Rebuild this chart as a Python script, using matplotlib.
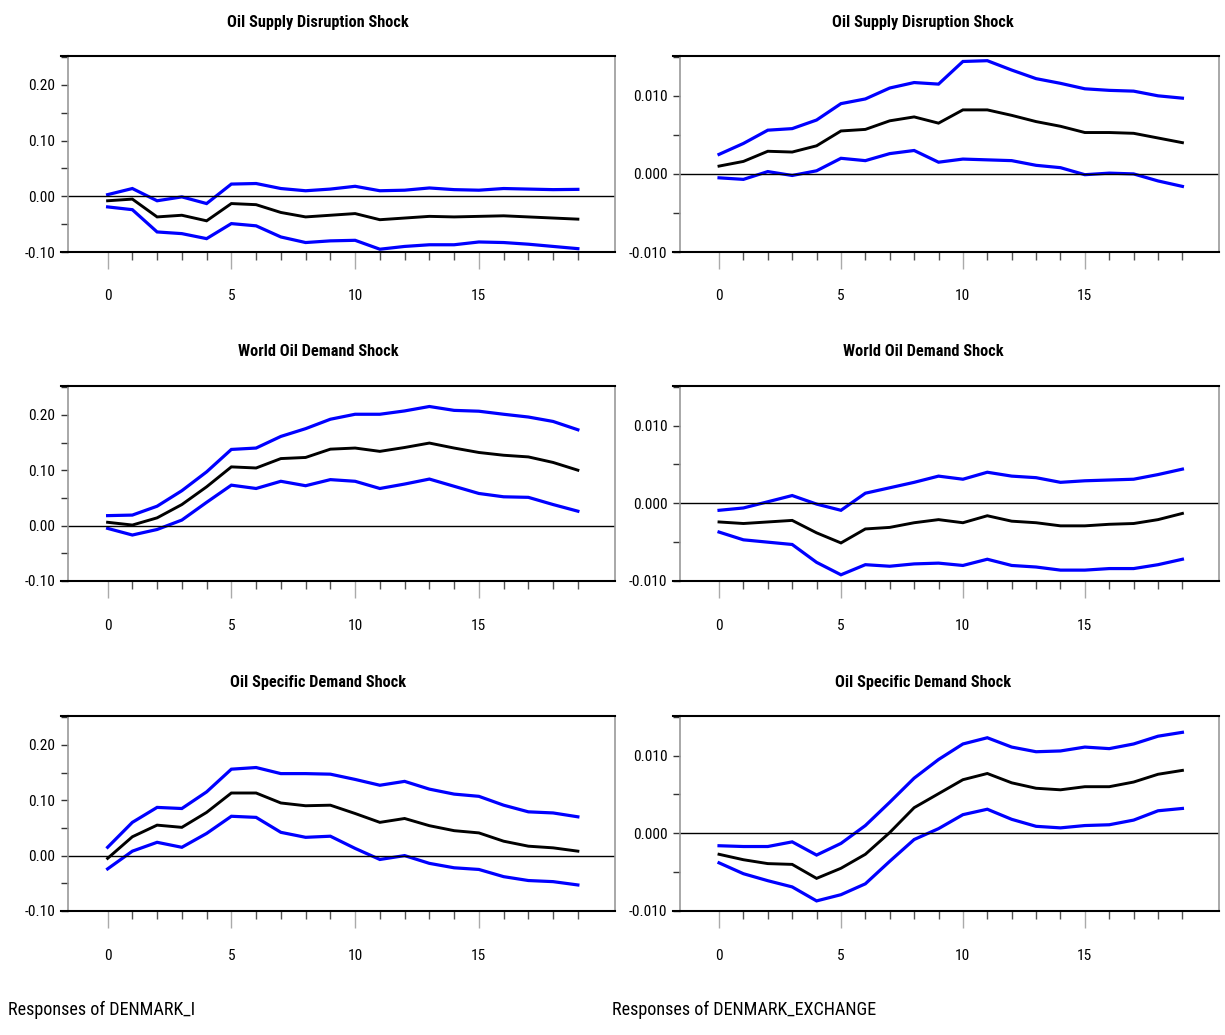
import numpy as np
import matplotlib
matplotlib.use("Agg")
import matplotlib.pyplot as plt
from matplotlib import font_manager
from matplotlib.ticker import MultipleLocator, FixedLocator

# Horizon (periods)
periods = list(range(20))

titles = ['Oil Supply Disruption Shock', 'World Oil Demand Shock', 'Oil Specific Demand Shock']
column_labels = ['Responses of DENMARK_I', 'Responses of DENMARK_EXCHANGE']

# Responses of DENMARK_I
i_supply = [-0.008, -0.005, -0.037, -0.034, -0.044, -0.013, -0.015, -0.029, -0.037, -0.034,
            -0.031, -0.042, -0.039, -0.036, -0.037, -0.036, -0.035, -0.037, -0.039, -0.041]
i_supply_hi = [0.003, 0.014, -0.008, -0.001, -0.013, 0.022, 0.023, 0.014, 0.010, 0.013,
               0.018, 0.010, 0.011, 0.015, 0.012, 0.011, 0.014, 0.013, 0.012, 0.0125]
i_supply_lo = [-0.019, -0.024, -0.064, -0.067, -0.076, -0.049, -0.053, -0.073, -0.083, -0.080,
               -0.079, -0.095, -0.090, -0.087, -0.087, -0.082, -0.083, -0.086, -0.090, -0.094]

i_world = [0.006, 0.001, 0.014, 0.038, 0.070, 0.106, 0.104, 0.121, 0.123, 0.138,
           0.140, 0.134, 0.141, 0.149, 0.140, 0.132, 0.127, 0.124, 0.114, 0.100]
i_world_hi = [0.018, 0.019, 0.035, 0.063, 0.097, 0.1375, 0.140, 0.161, 0.175, 0.192,
              0.201, 0.201, 0.207, 0.215, 0.208, 0.2065, 0.201, 0.196, 0.188, 0.173]
i_world_lo = [-0.005, -0.017, -0.007, 0.010, 0.042, 0.073, 0.067, 0.080, 0.072, 0.083,
              0.080, 0.067, 0.075, 0.084, 0.071, 0.058, 0.052, 0.051, 0.038, 0.026]

i_specific = [-0.005, 0.034, 0.055, 0.051, 0.078, 0.113, 0.113, 0.095, 0.090, 0.091,
              0.076, 0.060, 0.067, 0.054, 0.045, 0.041, 0.026, 0.017, 0.014, 0.008]
i_specific_hi = [0.015, 0.060, 0.087, 0.085, 0.115, 0.156, 0.159, 0.148, 0.148, 0.147,
                 0.1375, 0.127, 0.134, 0.120, 0.111, 0.107, 0.091, 0.079, 0.077, 0.070]
i_specific_lo = [-0.024, 0.008, 0.024, 0.015, 0.040, 0.071, 0.069, 0.042, 0.033, 0.035,
                 0.013, -0.007, 0.000, -0.014, -0.022, -0.025, -0.038, -0.045, -0.047, -0.053]

# Responses of DENMARK_EXCHANGE
x_supply = [0.0010, 0.0016, 0.0029, 0.0028, 0.0036, 0.0055, 0.0057, 0.0068, 0.0073, 0.0065,
            0.0082, 0.0082, 0.0075, 0.0067, 0.0061, 0.0053, 0.0053, 0.0052, 0.0046, 0.0040]
x_supply_hi = [0.0025, 0.0039, 0.0056, 0.0058, 0.0069, 0.0090, 0.0096, 0.0110, 0.0117, 0.0115,
               0.0144, 0.0145, 0.0133, 0.0122, 0.0116, 0.0109, 0.0107, 0.0106, 0.0100, 0.0097]
x_supply_lo = [-0.0005, -0.0007, 0.0003, -0.0002, 0.0004, 0.0020, 0.0017, 0.0026, 0.0030, 0.0015,
               0.0019, 0.0018, 0.0017, 0.0011, 0.0008, -0.0001, 0.0001, 0.0000, -0.0009, -0.0016]

x_world = [-0.0024, -0.0026, -0.0024, -0.0022, -0.0038, -0.0051, -0.0033, -0.0031, -0.0025, -0.0021,
           -0.0025, -0.0016, -0.0023, -0.0025, -0.0029, -0.0029, -0.0027, -0.0026, -0.0021, -0.0013]
x_world_hi = [-0.0009, -0.0006, 0.0002, 0.0010, -0.0001, -0.0009, 0.0013, 0.0020, 0.0027, 0.0035,
              0.0031, 0.0040, 0.0035, 0.0033, 0.0027, 0.0029, 0.0030, 0.0031, 0.0037, 0.0044]
x_world_lo = [-0.0037, -0.0047, -0.0050, -0.0053, -0.0076, -0.0092, -0.0079, -0.0081, -0.0078, -0.0077,
              -0.0080, -0.0072, -0.0080, -0.0082, -0.0086, -0.0086, -0.0084, -0.0084, -0.0079, -0.0072]

x_specific = [-0.0027, -0.0034, -0.0039, -0.0040, -0.0058, -0.0045, -0.0027, 0.0001, 0.0033, 0.0051,
              0.0069, 0.0077, 0.0065, 0.0058, 0.0056, 0.0060, 0.0060, 0.0066, 0.0076, 0.0081]
x_specific_hi = [-0.0016, -0.0017, -0.0017, -0.0011, -0.0028, -0.0013, 0.0010, 0.0040, 0.0071, 0.0095,
                 0.0115, 0.0123, 0.0111, 0.0105, 0.0106, 0.0111, 0.0109, 0.0115, 0.0125, 0.0130]
x_specific_lo = [-0.0038, -0.0052, -0.0061, -0.0069, -0.0087, -0.0079, -0.0065, -0.0036, -0.0008, 0.0006,
                 0.0024, 0.0031, 0.0018, 0.0009, 0.0007, 0.0010, 0.0011, 0.0017, 0.0029, 0.0032]

left_data = [(i_supply, i_supply_hi, i_supply_lo),
             (i_world, i_world_hi, i_world_lo),
             (i_specific, i_specific_hi, i_specific_lo)]
right_data = [(x_supply, x_supply_hi, x_supply_lo),
              (x_world, x_world_hi, x_world_lo),
              (x_specific, x_specific_hi, x_specific_lo)]

left_yticks = [-0.10, 0.00, 0.10, 0.20]
left_ylabels = ['-0.10', '0.00', '0.10', '0.20']
right_yticks = [-0.010, 0.000, 0.010]
right_ylabels = ['-0.010', '0.000', '0.010']


# Pick a narrow font if one is installed (the original uses a condensed face)
def pick_font():
    fonts = font_manager.fontManager.ttflist
    names = {f.name for f in fonts}
    for name in ['Liberation Sans Narrow', 'Roboto Condensed', 'Open Sans Condensed',
                 'Noto Sans Condensed', 'Arial Narrow']:
        if name in names:
            return name, 'normal'
    for f in fonts:
        if f.name == 'DejaVu Sans' and f.stretch in ('condensed', 'semi-condensed'):
            return 'DejaVu Sans', 'condensed'
    return 'Liberation Sans', 'normal'


family, stretch = pick_font()
plt.rcParams['font.family'] = [family, 'DejaVu Sans']
plt.rcParams['font.stretch'] = stretch

W, H = 1225, 1035
fig = plt.figure(figsize=(W / 100, H / 100), dpi=100)
renderer = fig.canvas.get_renderer()


# font size that gives the text the same pixel width as in the original
def fit_size(text, target_w, weight='normal'):
    t = fig.text(0, 0, text, fontsize=20, fontweight=weight)
    w = t.get_window_extent(renderer).width
    t.remove()
    return 20 * target_w / w


title_size = fit_size(titles[0], 180, 'bold')
tick_size = fit_size('0.20', 27)
label_size = fit_size(column_labels[0], 188)

# axes boxes in pixels: (left, right) for columns, (top, bottom) for rows
col_px = [(68, 615), (680, 1219)]
row_px = [(56, 252), (386, 581), (716, 911)]
title_x = [318, 923]
title_y = [22, 352, 682]


def draw_panel(ax, resp, hi, lo, ylim, yticks, ylabels, minor_step):
    ax.plot(periods, hi, color='#0000ff', lw=2.3, solid_joinstyle='miter')
    ax.plot(periods, lo, color='#0000ff', lw=2.3, solid_joinstyle='miter')
    ax.plot(periods, resp, color='black', lw=2.1, solid_joinstyle='miter')
    ax.axhline(0, color='black', lw=1.0)

    ax.set_xlim(-1.6, 20.5)
    ax.set_ylim(*ylim)

    # y axis: labelled major ticks plus a minor tick in between
    ax.set_yticks(yticks)
    ax.set_yticklabels(ylabels)
    ax.yaxis.set_minor_locator(MultipleLocator(minor_step))
    ax.tick_params(axis='y', which='both', direction='out', length=5, width=1,
                   color='#333333', labelsize=tick_size, pad=4)

    # x axis: short tick every period, long grey tick every 5
    ax.set_xticks([0, 5, 10, 15])
    ax.xaxis.set_minor_locator(FixedLocator(periods))
    ax.tick_params(axis='x', which='major', direction='out', length=12, width=1,
                   color='#aaaaaa', labelsize=tick_size, pad=15)
    ax.tick_params(axis='x', which='minor', direction='out', length=6, width=1,
                   color='#555555')

    for side in ['top', 'bottom']:
        ax.spines[side].set_color('black')
        ax.spines[side].set_linewidth(1.5)
    for side in ['left', 'right']:
        ax.spines[side].set_color('#999999')
        ax.spines[side].set_linewidth(1.2)

    # top and bottom frame lines run out to the tip of the y ticks
    for yy in [0, 1]:
        ax.plot([-0.013, 0], [yy, yy], color='black', lw=1.5,
                transform=ax.transAxes, clip_on=False)


for c in range(2):
    for r in range(3):
        l, rr = col_px[c]
        t, b = row_px[r]
        ax = fig.add_axes([l / W, 1 - b / H, (rr - l) / W, (b - t) / H])
        if c == 0:
            resp, hi, lo = left_data[r]
            draw_panel(ax, resp, hi, lo, (-0.10, 0.252), left_yticks, left_ylabels, 0.05)
        else:
            resp, hi, lo = right_data[r]
            draw_panel(ax, resp, hi, lo, (-0.010, 0.0151), right_yticks, right_ylabels, 0.005)
        fig.text(title_x[c] / W, 1 - title_y[r] / H, titles[r], ha='center', va='center',
                 fontsize=title_size, fontweight='bold')

fig.text(8 / W, 1 - 1010 / H, column_labels[0], ha='left', va='center', fontsize=label_size)
fig.text(612 / W, 1 - 1010 / H, column_labels[1], ha='left', va='center', fontsize=label_size)

plt.savefig('out.png', dpi=100)
